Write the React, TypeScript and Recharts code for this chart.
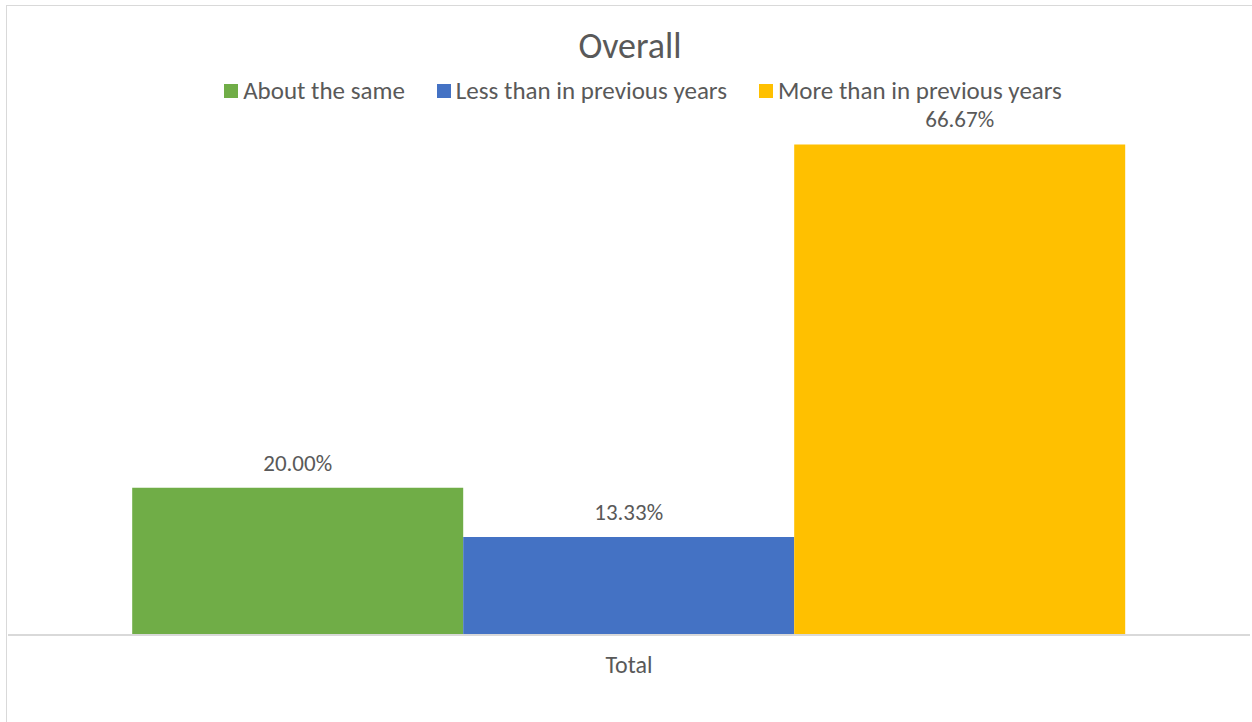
import { Bar, BarChart, LabelList, XAxis, YAxis } from "recharts";

const CATEGORIES = ["Total"];
const ABOUT_THE_SAME = [20.0];
const LESS_THAN_BEFORE = [13.33];
const MORE_THAN_BEFORE = [66.67];

const SERIES = [
  { key: "same", name: "About the same", color: "#70AD47" },
  { key: "less", name: "Less than in previous years", color: "#4472C4" },
  { key: "more", name: "More than in previous years", color: "#FFC000" },
];

const data = CATEGORIES.map((label, i) => ({
  label,
  same: ABOUT_THE_SAME[i],
  less: LESS_THAN_BEFORE[i],
  more: MORE_THAN_BEFORE[i],
}));

const FONT = "Carlito, 'Open Sans', sans-serif";
const TEXT = "#595959";

const fmt = (v: unknown) => `${Number(v).toFixed(2)}%`;

// legend is plain html so it does not eat into the plot area
function LegendRow() {
  return (
    <div
      style={{
        position: "absolute",
        top: 76,
        left: 21,
        width: 1244,
        display: "flex",
        justifyContent: "center",
        gap: 32,
        fontFamily: FONT,
        fontSize: 25,
        lineHeight: "30px",
        color: TEXT,
      }}
    >
      {SERIES.map((s) => (
        <div key={s.key} style={{ display: "flex", alignItems: "center", gap: 5 }}>
          <span style={{ width: 14, height: 14, background: s.color, display: "inline-block" }} />
          <span>{s.name}</span>
        </div>
      ))}
    </div>
  );
}

export default function App() {
  return (
    <div
      style={{
        position: "absolute",
        left: 0,
        top: 0,
        width: 1252,
        height: 722,
        overflow: "hidden",
        background: "#fff",
      }}
    >
      <div
        style={{
          position: "absolute",
          left: 6,
          top: 5,
          width: 1270,
          height: 740,
          border: "1px solid #d9d9d9",
        }}
      />
      <div
        style={{
          position: "absolute",
          top: 24,
          left: 8,
          width: 1244,
          textAlign: "center",
          fontFamily: FONT,
          fontSize: 36,
          color: TEXT,
        }}
      >
        Overall
      </div>
      <LegendRow />
      <div style={{ position: "absolute", left: 0, top: 0 }}>
        <BarChart
          width={1252}
          height={722}
          data={data}
          margin={{ top: 120, right: 2, bottom: 57, left: 8 }}
          barCategoryGap="10%"
          barGap={0}
        >
          <XAxis
            dataKey="label"
            axisLine={{ stroke: "#d9d9d9", strokeWidth: 2 }}
            tickLine={false}
            tick={{ fill: TEXT, fontSize: 24, fontFamily: FONT }}
            tickMargin={15}
          />
          <YAxis hide domain={[0, 70]} />
          {SERIES.map((s) => (
            <Bar key={s.key} dataKey={s.key} name={s.name} fill={s.color} isAnimationActive={false}>
              <LabelList
                dataKey={s.key}
                position="top"
                offset={17}
                formatter={fmt}
                style={{ fill: TEXT, fontSize: 23, fontFamily: FONT }}
              />
            </Bar>
          ))}
        </BarChart>
      </div>
    </div>
  );
}
